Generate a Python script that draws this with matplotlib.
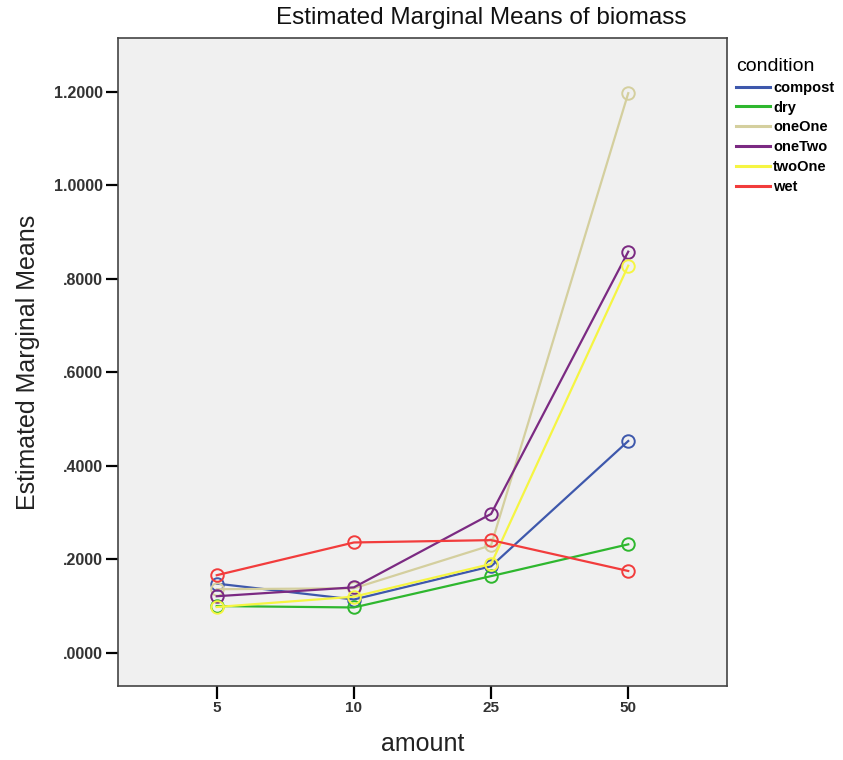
import numpy as np
import matplotlib
matplotlib.use("Agg")
from matplotlib import pyplot as plt

# 数据
amount = ["5", "10", "25", "50"]
conditions = ["compost", "dry", "oneOne", "oneTwo", "twoOne", "wet"]
compost = [0.148, 0.114, 0.185, 0.453]
dry = [0.100, 0.097, 0.164, 0.232]
oneOne = [0.136, 0.138, 0.230, 1.197]
oneTwo = [0.121, 0.140, 0.297, 0.858]
twoOne = [0.098, 0.120, 0.190, 0.828]
wet = [0.166, 0.236, 0.241, 0.175]
yticks = [0.0, 0.2, 0.4, 0.6, 0.8, 1.0, 1.2]

series = [compost, dry, oneOne, oneTwo, twoOne, wet]
colors = ["#3e58ac", "#2eb72e", "#d4cf9e", "#7b2a82", "#f5f542", "#f23c3c"]

plt.rcParams['font.family'] = ['Liberation Sans', 'DejaVu Sans']

fig = plt.figure(figsize=(8.43, 7.6), dpi=100)
ax = fig.add_axes([118 / 843, 1 - 686 / 760, (727 - 118) / 843, (686 - 38) / 760])
ax.set_facecolor("#f0f0f0")

x = np.arange(len(amount))
for name, vals, c in zip(conditions, series, colors):
    ax.plot(x, vals, color=c, lw=1.6, label=name)
    ax.plot(x, vals, ls="none", marker="o", ms=9, mfc="none", mec=c, mew=1.4)

ax.set_xlim(-0.72, 3.72)
ax.set_ylim(-0.071, 1.315)
ax.set_xticks(x)
ax.set_xticklabels(amount, fontsize=11, fontweight="bold", color="#333333")
ax.set_yticks(yticks)
ax.set_yticklabels([("%.4f" % v).lstrip("0") if v < 1 else "%.4f" % v for v in yticks],
                   fontsize=11.5, fontweight="bold", color="#333333")
ax.tick_params(axis="both", length=9, width=1.6, direction="out", pad=2)
for s in ax.spines.values():
    s.set_color("#444444")
    s.set_linewidth(1.2)

ax.set_xlabel("amount", fontsize=18, labelpad=12, color="#222222")
ax.set_ylabel("Estimated Marginal Means", fontsize=18, labelpad=10, color="#222222")
# 标题居中于 绘图区+图例 的范围
fig.text(481 / 843, 1 - 18 / 760, "Estimated Marginal Means of biomass",
         fontsize=17.5, ha="center", va="center", color="#111111")

leg = ax.legend(loc="upper left", bbox_to_anchor=(0.998, 0.985), frameon=False,
                title="condition", title_fontsize=14, handlelength=2.3,
                handletextpad=0.25, labelspacing=0.4, borderaxespad=0.3,
                prop={"size": 10.5, "weight": "bold"})
for h in leg.get_lines():
    h.set_linewidth(2.2)
leg._legend_box.align = "left"

fig.savefig("out.png", dpi=100)
